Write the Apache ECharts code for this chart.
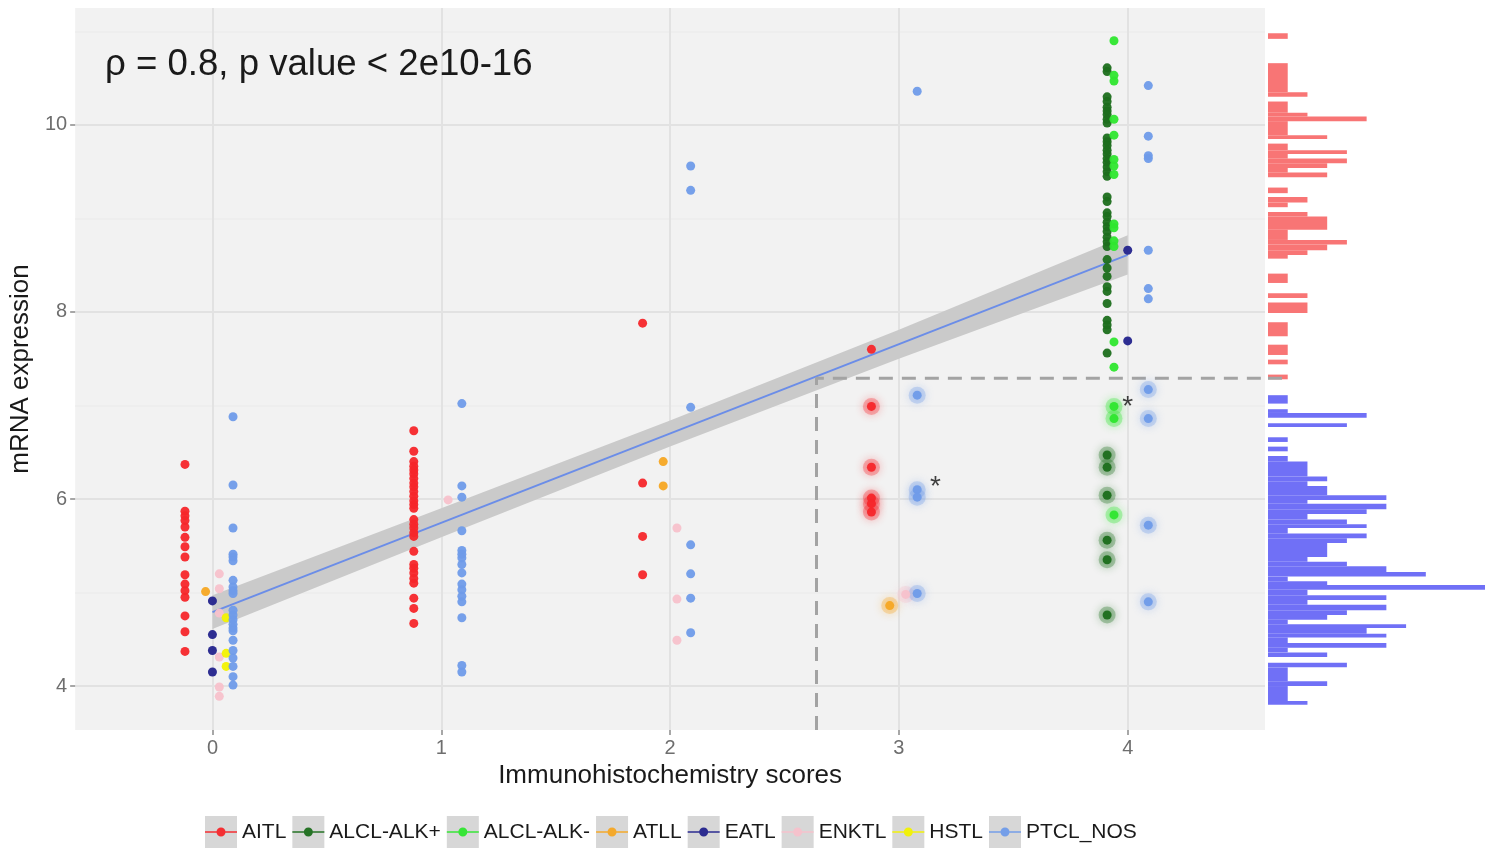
<!DOCTYPE html>
<html>
<head>
<meta charset="utf-8">
<script src="https://cdn.jsdelivr.net/npm/echarts@6/dist/echarts.min.js"></script>
<style>
  html, body { margin: 0; padding: 0; background: #ffffff; }
  #chart { width: 1485px; height: 849px; }
</style>
</head>
<body>
<div id="chart"></div>
<script>
// ---- data: immunohistochemistry score (jittered) vs mRNA expression ----
const groupNames = ['AITL', 'ALCL-ALK+', 'ALCL-ALK-', 'ATLL', 'EATL', 'ENKTL', 'HSTL', 'PTCL_NOS'];

const aitlPoints = [
  [-0.12, 6.37], [-0.12, 5.87], [-0.12, 5.82], [-0.12, 5.77], [-0.12, 5.70], [-0.12, 5.59],
  [-0.12, 5.49], [-0.12, 5.38], [-0.12, 5.19], [-0.12, 5.09], [-0.12, 5.02], [-0.12, 4.95],
  [-0.12, 4.75], [-0.12, 4.58], [-0.12, 4.37],
  [0.88, 6.73], [0.88, 6.51], [0.88, 6.40], [0.88, 6.35], [0.88, 6.31], [0.88, 6.27],
  [0.88, 6.22], [0.88, 6.17], [0.88, 6.13], [0.88, 6.08], [0.88, 6.03], [0.88, 5.98],
  [0.88, 5.94], [0.88, 5.90], [0.88, 5.78], [0.88, 5.73], [0.88, 5.69], [0.88, 5.64],
  [0.88, 5.60], [0.88, 5.44], [0.88, 5.30], [0.88, 5.26], [0.88, 5.21], [0.88, 5.15],
  [0.88, 5.10], [0.88, 4.94], [0.88, 4.83], [0.88, 4.67],
  [1.88, 7.88], [1.88, 6.17], [1.88, 5.60], [1.88, 5.19],
  [2.88, 7.60]
];
const aitlHighlighted = [[2.88, 6.99], [2.88, 6.34], [2.88, 6.01], [2.88, 5.95], [2.88, 5.86]];

const alkPosPoints = [
  [3.91, 10.61], [3.91, 10.57], [3.91, 10.30], [3.91, 10.25], [3.91, 10.19], [3.91, 10.15],
  [3.91, 10.11], [3.91, 10.06], [3.91, 10.02], [3.91, 9.86], [3.91, 9.82], [3.91, 9.78],
  [3.91, 9.73], [3.91, 9.69], [3.91, 9.64], [3.91, 9.60], [3.91, 9.55], [3.91, 9.50],
  [3.91, 9.45], [3.91, 9.23], [3.91, 9.18], [3.91, 9.06], [3.91, 9.02], [3.91, 8.96],
  [3.91, 8.91], [3.91, 8.86], [3.91, 8.80], [3.91, 8.75], [3.91, 8.70], [3.91, 8.56],
  [3.91, 8.47], [3.91, 8.38], [3.91, 8.27], [3.91, 8.22], [3.91, 8.09], [3.91, 7.91],
  [3.91, 7.86], [3.91, 7.81], [3.91, 7.56]
];
const alkPosHighlighted = [[3.91, 6.47], [3.91, 6.34], [3.91, 6.04], [3.91, 5.56], [3.91, 5.35], [3.91, 4.76]];

const alkNegPoints = [
  [3.94, 10.90], [3.94, 10.53], [3.94, 10.47], [3.94, 10.06], [3.94, 9.89], [3.94, 9.63],
  [3.94, 9.56], [3.94, 9.47], [3.94, 8.94], [3.94, 8.90], [3.94, 8.76], [3.94, 8.70],
  [3.94, 7.68], [3.94, 7.41]
];
const alkNegHighlighted = [[3.94, 6.99], [3.94, 6.86], [3.94, 5.83]];

const atllPoints = [[-0.03, 5.01], [1.97, 6.40], [1.97, 6.14]];
const atllHighlighted = [[2.96, 4.86]];

const eatlPoints = [[0, 4.91], [0, 4.55], [0, 4.38], [0, 4.15], [4.0, 8.66], [4.0, 7.69]];
const eatlHighlighted = [];

const enktlPoints = [
  [0.03, 5.20], [0.03, 5.04], [0.03, 4.78], [0.03, 4.31], [0.03, 3.99], [0.03, 3.89],
  [1.03, 5.99], [2.03, 5.69], [2.03, 4.93], [2.03, 4.49]
];
const enktlHighlighted = [[3.03, 4.98]];

const hstlPoints = [[0.06, 4.73], [0.06, 4.35], [0.06, 4.21]];
const hstlHighlighted = [];

const ptclPoints = [
  [0.09, 6.88], [0.09, 6.15], [0.09, 5.69], [0.09, 5.41], [0.09, 5.38], [0.09, 5.34],
  [0.09, 5.13], [0.09, 5.06], [0.09, 5.02], [0.09, 4.99], [0.09, 4.81], [0.09, 4.76],
  [0.09, 4.71], [0.09, 4.66], [0.09, 4.62], [0.09, 4.59], [0.09, 4.49], [0.09, 4.38],
  [0.09, 4.30], [0.09, 4.21], [0.09, 4.10], [0.09, 4.01],
  [1.09, 7.02], [1.09, 6.14], [1.09, 6.02], [1.09, 5.66], [1.09, 5.45], [1.09, 5.41],
  [1.09, 5.37], [1.09, 5.30], [1.09, 5.21], [1.09, 5.09], [1.09, 5.03], [1.09, 4.96],
  [1.09, 4.90], [1.09, 4.73], [1.09, 4.22], [1.09, 4.15],
  [2.09, 9.56], [2.09, 9.30], [2.09, 6.98], [2.09, 5.51], [2.09, 5.20], [2.09, 4.94], [2.09, 4.57],
  [3.08, 10.36],
  [4.09, 10.42], [4.09, 9.88], [4.09, 9.67], [4.09, 9.64], [4.09, 8.66], [4.09, 8.25], [4.09, 8.14]
];
const ptclHighlighted = [
  [3.08, 7.11], [3.08, 6.10], [3.08, 6.02], [3.08, 4.99],
  [4.09, 7.17], [4.09, 6.86], [4.09, 5.72], [4.09, 4.90]
];

// flagged samples (asterisks)
const starPoints = [[3.16, 6.20], [4.0, 7.06]];

// linear fit and its confidence band
const fitX = [0, 4];
const fitY = [4.79, 8.61];
const bandX = [0, 1, 2, 3, 4];
const bandLower = [4.61, 5.59, 6.56, 7.50, 8.40];
const bandUpper = [4.97, 5.90, 6.84, 7.81, 8.82];

// cut-off used to split high / low expression
const cutScore = 2.64;
const cutExpression = 7.29;

// marginal histogram of mRNA expression: [bin low, bin high, count]
const histHigh = [
  [10.92, 10.98, 1], [10.35, 10.66, 1], [10.30, 10.35, 2], [10.13, 10.25, 1], [10.09, 10.13, 2],
  [10.04, 10.09, 5], [9.89, 10.04, 1], [9.85, 9.89, 3], [9.73, 9.80, 1], [9.69, 9.73, 4],
  [9.64, 9.69, 1], [9.59, 9.64, 4], [9.54, 9.59, 3], [9.49, 9.54, 1], [9.44, 9.49, 3],
  [9.27, 9.33, 1], [9.17, 9.23, 2], [9.12, 9.17, 1], [9.02, 9.07, 2], [8.88, 9.02, 3],
  [8.77, 8.88, 1], [8.72, 8.77, 4], [8.66, 8.72, 3], [8.61, 8.66, 2], [8.57, 8.61, 1],
  [8.31, 8.41, 1], [8.15, 8.20, 2], [7.99, 8.10, 2], [7.74, 7.89, 1], [7.54, 7.65, 1],
  [7.44, 7.49, 1], [7.28, 7.33, 1]
];
const histLow = [
  [7.02, 7.11, 1], [6.92, 6.96, 1], [6.87, 6.92, 5], [6.77, 6.81, 4], [6.61, 6.66, 1],
  [6.51, 6.56, 1], [6.40, 6.46, 1], [6.24, 6.40, 2], [6.19, 6.24, 3], [6.14, 6.19, 2],
  [6.04, 6.14, 3], [5.99, 6.04, 6], [5.95, 5.99, 2], [5.89, 5.95, 6], [5.84, 5.89, 5],
  [5.78, 5.84, 2], [5.73, 5.78, 4], [5.69, 5.73, 5], [5.63, 5.69, 1], [5.58, 5.63, 5],
  [5.53, 5.58, 4], [5.38, 5.53, 3], [5.33, 5.38, 2], [5.28, 5.33, 4], [5.22, 5.28, 6],
  [5.17, 5.22, 8], [5.12, 5.17, 1], [5.08, 5.12, 3], [5.03, 5.08, 11], [4.97, 5.03, 2],
  [4.92, 4.97, 6], [4.87, 4.92, 2], [4.81, 4.87, 6], [4.76, 4.81, 4], [4.71, 4.76, 3],
  [4.66, 4.71, 1], [4.62, 4.66, 7], [4.56, 4.62, 5], [4.52, 4.56, 6], [4.46, 4.52, 1],
  [4.41, 4.46, 6], [4.36, 4.41, 1], [4.31, 4.36, 3], [4.20, 4.25, 4], [4.05, 4.20, 1],
  [4.00, 4.05, 3], [3.84, 4.00, 1], [3.80, 3.84, 2]
];

const yTickValues = [4, 6, 8, 10];
const yMinorValues = [5, 7, 9, 11];
const xTickValues = [0, 1, 2, 3, 4];

// ---- styling ----
const FONT = '"Liberation Sans", Arial, Helvetica, sans-serif';
const Y_MIN = 3.53, Y_MAX = 11.25;
const groupColors = {
  'AITL': '#f5262a',
  'ALCL-ALK+': '#1c6e1c',
  'ALCL-ALK-': '#2ee62e',
  'ATLL': '#f5a623',
  'EATL': '#23238c',
  'ENKTL': '#f7c1cb',
  'HSTL': '#f2f200',
  'PTCL_NOS': '#6f9be9'
};
const groupData = {
  'AITL': [aitlPoints, aitlHighlighted],
  'ALCL-ALK+': [alkPosPoints, alkPosHighlighted],
  'ALCL-ALK-': [alkNegPoints, alkNegHighlighted],
  'ATLL': [atllPoints, atllHighlighted],
  'EATL': [eatlPoints, eatlHighlighted],
  'ENKTL': [enktlPoints, enktlHighlighted],
  'HSTL': [hstlPoints, hstlHighlighted],
  'PTCL_NOS': [ptclPoints, ptclHighlighted]
};

const chart = echarts.init(document.getElementById('chart'), null, { renderer: 'canvas' });

const series = [];

// confidence band of the fit
series.push({
  type: 'custom',
  xAxisIndex: 0, yAxisIndex: 0,
  silent: true, z: 1,
  data: bandX.map((x, i) => [x, bandLower[i], bandUpper[i]]),
  encode: { x: 0, y: [1, 2] },
  renderItem: function (params, api) {
    if (params.dataIndex !== 0) return null;
    const pts = [];
    for (let i = 0; i < bandX.length; i++) pts.push(api.coord([bandX[i], bandUpper[i]]));
    for (let i = bandX.length - 1; i >= 0; i--) pts.push(api.coord([bandX[i], bandLower[i]]));
    return { type: 'polygon', shape: { points: pts }, style: { fill: '#cacaca' } };
  }
});

// fitted line
series.push({
  type: 'line', xAxisIndex: 0, yAxisIndex: 0,
  data: fitX.map((x, i) => [x, fitY[i]]),
  symbol: 'none', silent: true, z: 2,
  lineStyle: { color: '#6b8de8', width: 2 }
});

// cut-off dashed guide
series.push({
  type: 'line', xAxisIndex: 0, yAxisIndex: 0,
  data: [[cutScore, Y_MIN], [cutScore, cutExpression], [4.6, cutExpression]],
  symbol: 'none', silent: true, z: 3,
  lineStyle: { color: '#a3a3a3', width: 3, type: [14, 9] }
});

// glow behind highlighted samples
groupNames.forEach(name => {
  const hl = groupData[name][1];
  if (!hl.length) return;
  series.push({
    type: 'scatter', name: name + ' highlight', xAxisIndex: 0, yAxisIndex: 0,
    data: hl, symbolSize: 17, silent: true, z: 4,
    itemStyle: { color: groupColors[name], opacity: 0.3, shadowBlur: 9, shadowColor: groupColors[name] }
  });
});

// sample points
groupNames.forEach(name => {
  const [pts, hl] = groupData[name];
  series.push({
    type: 'scatter', name: name, xAxisIndex: 0, yAxisIndex: 0,
    data: pts.concat(hl), symbolSize: 9, z: 5,
    itemStyle: { color: groupColors[name], opacity: 0.95 }
  });
});

// asterisks
series.push({
  type: 'scatter', xAxisIndex: 0, yAxisIndex: 0,
  data: starPoints, symbolSize: 1, silent: true, z: 6,
  itemStyle: { color: 'rgba(0,0,0,0)' },
  label: { show: true, formatter: '*', position: 'inside', offset: [0, 7],
           fontSize: 28, color: '#111', fontFamily: FONT }
});

// marginal histogram
function histRender(color) {
  return function (params, api) {
    const lo = api.value(0), hi = api.value(1), c = api.value(2);
    const p1 = api.coord([0, hi]);
    const p2 = api.coord([c, lo]);
    return { type: 'rect',
      shape: { x: p1[0], y: p1[1], width: p2[0] - p1[0], height: p2[1] - p1[1] },
      style: { fill: color } };
  };
}
series.push({
  type: 'custom', xAxisIndex: 1, yAxisIndex: 2, silent: true,
  data: histHigh, encode: { x: 2, y: [0, 1] }, renderItem: histRender('#f87575')
});
series.push({
  type: 'custom', xAxisIndex: 1, yAxisIndex: 2, silent: true,
  data: histLow, encode: { x: 2, y: [0, 1] }, renderItem: histRender('#7070f6')
});
series.push({
  type: 'line', xAxisIndex: 1, yAxisIndex: 2,
  data: [[0, cutExpression], [0.9, cutExpression]],
  symbol: 'none', silent: true, z: 3,
  lineStyle: { color: '#a3a3a3', width: 3, type: [14, 9] }
});

// legend key: line with a dot, centred in a 32x32 box
const legendIconPath = 'path://M0,0h0.01v0.01h-0.01z M0,31.99h0.01v0.01h-0.01z ' +
  'M0,15.25h32v1.5H0z M20.5,16a4.5,4.5 0 1,1 -9,0a4.5,4.5 0 1,1 9,0z';
const legendCommon = {
  data: groupNames, left: 205, top: 816, padding: 0, orient: 'horizontal',
  itemWidth: 32, itemHeight: 32, itemGap: 6, selectedMode: false,
  textStyle: { fontSize: 21, fontFamily: FONT, color: '#1a1a1a', padding: [2, 0, 0, 0] }
};

chart.setOption({
  animation: false,
  backgroundColor: '#ffffff',
  textStyle: { fontFamily: FONT },
  title: {
    text: 'ρ = 0.8, p value < 2e10-16',
    left: 100, top: 41,
    textStyle: { fontSize: 36.6, fontWeight: 'normal', color: '#1a1a1a', fontFamily: FONT }
  },
  legend: [
    Object.assign({}, legendCommon, { icon: 'rect', itemStyle: { color: '#d5d5d5' } }),
    Object.assign({}, legendCommon, {
      icon: legendIconPath,
      textStyle: Object.assign({}, legendCommon.textStyle, { color: 'rgba(0,0,0,0)' })
    })
  ],
  grid: [
    { left: 75, right: 220, top: 8, bottom: 119, show: true, backgroundColor: '#f2f2f2', borderWidth: 0 },
    { left: 1268, right: 0, top: 8, bottom: 119, show: false }
  ],
  xAxis: [
    {
      type: 'value', gridIndex: 0, min: -0.6, max: 4.6,
      name: 'Immunohistochemistry scores', nameLocation: 'middle', nameGap: 31,
      nameTextStyle: { fontSize: 26, color: '#1a1a1a', fontFamily: FONT },
      axisLine: { show: false, onZero: false },
      axisTick: { show: true, length: 5, customValues: xTickValues, lineStyle: { color: '#8a8a8a', width: 1.5 } },
      axisLabel: { customValues: xTickValues, fontSize: 20, color: '#6e6e6e', margin: 8, fontFamily: FONT },
      splitLine: { show: true, lineStyle: { color: '#e2e2e2', width: 2 } }
    },
    {
      type: 'value', gridIndex: 1, min: 0, max: 11, show: false,
      splitLine: { show: false }
    }
  ],
  yAxis: [
    {
      type: 'value', gridIndex: 0, min: Y_MIN, max: Y_MAX,
      name: 'mRNA expression', nameLocation: 'middle', nameGap: 29, nameRotate: 90,
      nameTextStyle: { fontSize: 26, color: '#1a1a1a', fontFamily: FONT },
      axisLine: { show: false, onZero: false },
      axisTick: { show: true, length: 5, customValues: yTickValues, lineStyle: { color: '#8a8a8a', width: 1.5 } },
      axisLabel: { customValues: yTickValues, fontSize: 20, color: '#6e6e6e', margin: 8, fontFamily: FONT },
      splitLine: { show: true, lineStyle: { color: '#e2e2e2', width: 2 } }
    },
    {
      type: 'value', gridIndex: 0, min: Y_MIN, max: Y_MAX,
      axisLine: { show: false, onZero: false }, axisLabel: { show: false, customValues: yMinorValues },
      axisTick: { show: false, customValues: yMinorValues },
      splitLine: { show: true, lineStyle: { color: '#ececec', width: 1.5 } }
    },
    {
      type: 'value', gridIndex: 1, min: Y_MIN, max: Y_MAX, show: false,
      splitLine: { show: false }
    }
  ],
  series: series
});
</script>
</body>
</html>
